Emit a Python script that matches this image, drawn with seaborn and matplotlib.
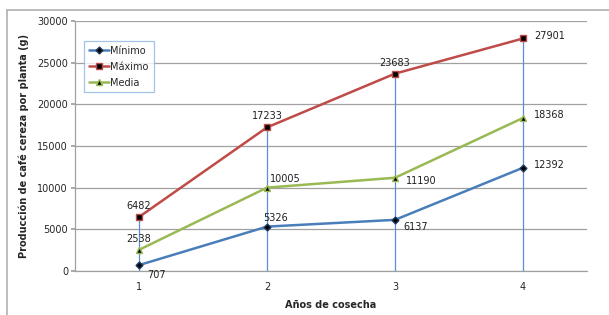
import numpy as np
import pandas as pd
import seaborn as sns
import matplotlib.pyplot as plt
from matplotlib.lines import Line2D

years = [1, 2, 3, 4]
minimo = [707, 5326, 6137, 12392]
maximo = [6482, 17233, 23683, 27901]
media = [2538, 10005, 11190, 18368]

y_ticks = [0, 5000, 10000, 15000, 20000, 25000, 30000]

sns.set_theme(style="white")
plt.rcParams["font.family"] = ["DejaVu Sans"]

fig = plt.figure(figsize=(6.09, 3.15), dpi=100)
ax = fig.add_axes([75 / 609, 1 - 271 / 315, 512 / 609, 250 / 315])

# chart area border (top and left visible)
fig.add_artist(Line2D([7 / 609, 7 / 609], [0, 1 - 10 / 315], transform=fig.transFigure,
                      color="#b0b0b0", lw=1.2))
fig.add_artist(Line2D([7 / 609, 1], [1 - 10 / 315, 1 - 10 / 315], transform=fig.transFigure,
                      color="#b0b0b0", lw=1.2))

# drop lines from the highest value to the axis
tops = np.max([minimo, maximo, media], axis=0)
ax.vlines(years, 0, tops, color="#5a8ed6", lw=0.9, zorder=1)

series = [
    ("Mínimo", minimo, "#4a7ebb", "D", "#1f3a5f", 3.5),
    ("Máximo", maximo, "#be4b48", "s", "#be4b48", 5),
    ("Media", media, "#98b954", "^", "#98b954", 5),
]
for name, vals, color, mk, edge, ms in series:
    df = pd.DataFrame({"x": years, "y": vals})
    sns.lineplot(data=df, x="x", y="y", ax=ax, color=color, lw=1.8, marker=mk,
                 markersize=ms, markerfacecolor="black", markeredgecolor=edge,
                 markeredgewidth=1.0, label=name, zorder=3)

fs = 7
# data labels
offsets = {
    "Mínimo": [(6, -7, "left"), (-3, 6, "left"), (6, -5, "left"), (8, 2, "left")],
    "Máximo": [(0, 8, "center"), (0, 8, "center"), (0, 8, "center"), (8, 2, "left")],
    "Media": [(0, 8, "center"), (2, 6, "left"), (8, -2, "left"), (8, 2, "left")],
}
for name, vals, *_ in series:
    for i, (x, v) in enumerate(zip(years, vals)):
        dx, dy, ha = offsets[name][i]
        ax.annotate(f"{v}", (x, v), xytext=(dx, dy), textcoords="offset points",
                    ha=ha, va="center", fontsize=fs, color="#202020")

ax.set_xlim(0.5, 4.5)
ax.set_ylim(0, 30000)
ax.set_yticks(y_ticks)
ax.set_xticks(years)
ax.set_yticklabels([str(t) for t in y_ticks], fontsize=fs)
ax.set_xticklabels([str(y) for y in years], fontsize=fs)
ax.yaxis.grid(True, color="#a0a0a0", lw=0.9)
ax.set_axisbelow(True)
for s in ["top", "right"]:
    ax.spines[s].set_visible(False)
for s in ["left", "bottom"]:
    ax.spines[s].set_color("#a0a0a0")
    ax.spines[s].set_linewidth(0.9)
ax.tick_params(axis="y", length=3, color="#a0a0a0", pad=2, direction="out", left=True)
ax.tick_params(axis="x", length=0, pad=8)

ax.set_xlabel("Años de cosecha", fontsize=fs, fontweight="bold", labelpad=6)
ax.set_ylabel("Producción de café cereza por planta (g)", fontsize=fs, fontweight="bold",
              labelpad=6)

leg = ax.legend(loc="upper left", bbox_to_anchor=(0.018, 0.92), fontsize=fs, frameon=True,
                fancybox=False, handlelength=2.0, handletextpad=0.2, borderpad=0.5,
                labelspacing=0.6, borderaxespad=0.0)
leg.get_frame().set_edgecolor("#8eb4e3")
leg.get_frame().set_linewidth(0.9)

fig.savefig("out.png", dpi=100)
